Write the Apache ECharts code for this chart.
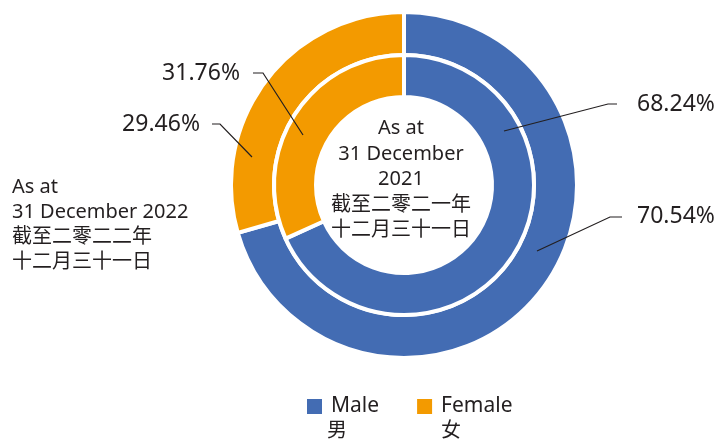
<!DOCTYPE html>
<html>
<head>
<meta charset="utf-8">
<script src="https://cdn.jsdelivr.net/npm/echarts@6/dist/echarts.min.js"></script>
<style>
html,body{margin:0;padding:0;background:#fff;}
#c{width:718px;height:441px;}
</style>
</head>
<body>
<div id="c"></div>
<script>
// ---- data ----
const categories = ['Male', 'Female'];
const categoriesZh = ['男', '女'];
const values2022 = [70.54, 29.46];   // outer ring
const values2021 = [68.24, 31.76];   // inner ring
const label2022 = ['As at', '31 December 2022', '截至二零二二年', '十二月三十一日'];
const label2021 = ['As at', '31 December', '2021', '截至二零二一年', '十二月三十一日'];

// ---- styles / layout ----
const colors = ['#436cb3', '#f39a00'];
const textColor = '#231f20';
const FONT = '"Noto Sans", "Noto Sans CJK TC", sans-serif';
const CX = 404, CY = 185;
// label placement per series [outer, inner], per data item [male, female]
const labelPlaces = [
  [ {x: 637, y: 216, align: 'left',  line: [[537,251],[610,217],[622,217]]},
    {x: 200, y: 124, align: 'right', line: [[252,157],[220,124],[212,124]]} ],
  [ {x: 637, y: 104, align: 'left',  line: [[504,131],[608,104],[617,104]]},
    {x: 240, y: 73,  align: 'right', line: [[303,135],[263,73],[253,73]]} ]
];

const chart = echarts.init(document.getElementById('c'), null, {renderer: 'canvas'});

function ringSeries(name, vals, radius, si) {
  return {
    name: name,
    type: 'pie',
    center: [CX, CY],
    radius: radius,
    startAngle: 90,
    clockwise: true,
    animation: false,
    silent: true,
    itemStyle: {borderColor: '#fff', borderWidth: 4},
    label: {
      show: true,
      position: 'outside',
      formatter: p => p.value.toFixed(2) + '%',
      fontFamily: FONT,
      fontSize: 23,
      color: textColor
    },
    labelLine: {show: false},
    labelLayout: function (params) {
      const lp = labelPlaces[si][params.dataIndex];
      return {x: lp.x, y: lp.y, align: lp.align, verticalAlign: 'middle'};
    },
    data: categories.map((c, i) => ({name: c, value: vals[i], itemStyle: {color: colors[i]}}))
  };
}

const leaderLines = [];
labelPlaces.forEach(s => s.forEach(lp => leaderLines.push({
  type: 'polyline', z: 100, silent: true,
  shape: {points: lp.line},
  style: {stroke: textColor, lineWidth: 1.2, fill: null}
})));

const option = {
  backgroundColor: '#fff',
  legend: {
    data: categories,
    left: 302,
    top: 391,
    itemWidth: 15,
    itemHeight: 15,
    itemGap: 38,
    icon: 'rect',
    selectedMode: false,
    itemStyle: {borderWidth: 0},
    textStyle: {fontFamily: FONT, fontSize: 21, color: textColor, padding: [0, 0, 0, 4]}
  },
  graphic: [
    {
      type: 'text', left: 12, top: 175,
      style: {text: label2022.join('\n'), font: '20px ' + FONT, fill: textColor, lineHeight: 25}
    },
    {
      type: 'text', x: 401, y: 116,
      style: {text: label2021.join('\n'), font: '20px ' + FONT, fill: textColor, lineHeight: 25.5, align: 'center'}
    },
    {
      type: 'text', x: 327, y: 421,
      style: {text: categoriesZh[0], font: '20px ' + FONT, fill: textColor}
    },
    {
      type: 'text', x: 441, y: 421,
      style: {text: categoriesZh[1], font: '20px ' + FONT, fill: textColor}
    }
  ].concat(leaderLines),
  series: [
    ringSeries('2022', values2022, [130, 173], 0),
    ringSeries('2021', values2021, [88, 130], 1)
  ]
};
chart.setOption(option);
</script>
</body>
</html>
